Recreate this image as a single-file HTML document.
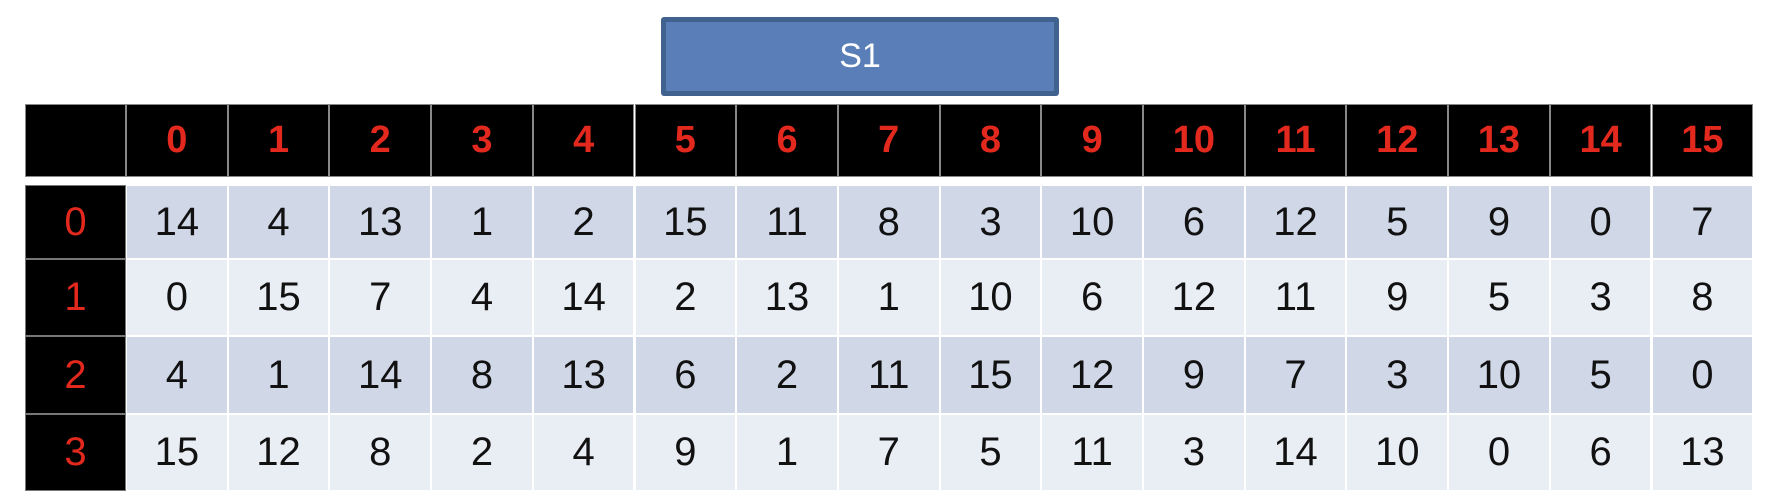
<!DOCTYPE html>
<html><head><meta charset="utf-8"><style>
body{margin:0;width:1770px;height:498px;background:#fff;position:relative;overflow:hidden;font-family:"Liberation Sans",sans-serif}
.c{position:absolute;display:flex;align-items:center;justify-content:center;box-sizing:border-box}
</style></head><body>
<div class="c" style="left:661px;top:17px;width:398px;height:79px;background:#5a7fb8;border:5px solid #41618f;border-radius:3px;color:#fff;font-size:34px">S1</div>
<div id="t"></div>
<script>
const colLabels=["0","1","2","3","4","5","6","7","8","9","10","11","12","13","14","15"];
const rowLabels=["0","1","2","3"];
const row0=[14,4,13,1,2,15,11,8,3,10,6,12,5,9,0,7];
const row1=[0,15,7,4,14,2,13,1,10,6,12,11,9,5,3,8];
const row2=[4,1,14,8,13,6,2,11,15,12,9,7,3,10,5,0];
const row3=[15,12,8,2,4,9,1,7,5,11,3,14,10,0,6,13];
const rows=[row0,row1,row2,row3];
const t=document.getElementById('t');
const L=25,C0=126,CW=101.7,HT=104,HB=177;
const RY=[185,259,336,414,491];
function cell(x,y,w,h,bg,txt,color,bold,border){
  const d=document.createElement('div');d.className='c';
  d.style.cssText+=`left:${x}px;top:${y}px;width:${w}px;height:${h}px;background:${bg};color:${color};font-size:${bold?38:40}px;font-weight:${bold?'bold':'normal'};border:${border}`;
  d.textContent=txt;t.appendChild(d);return d;
}
let e=cell(L,HT,C0-L,HB-HT,'#000','','#e3281e',true,'1px solid #888');


colLabels.forEach((s,i)=>{
  const el=cell(C0+i*CW,HT,CW,HB-HT,'#000',s,'#e3281e',true,'1px solid #888');
  
  
});
rowLabels.forEach((s,r)=>{
  const y=RY[r],h=RY[r+1]-RY[r];
  const el=cell(L,y,C0-L,h,'#000',s,'#e3281e',false,'1px solid #777');
  
  
  rows[r].forEach((v,i)=>{
    const c=cell(C0+i*CW,y,CW,h,r%2==0?'#d0d8e8':'#e9edf4',String(v),'#111',false,'1px solid #fff');
    
    
  });
});
</script>
</body></html>
